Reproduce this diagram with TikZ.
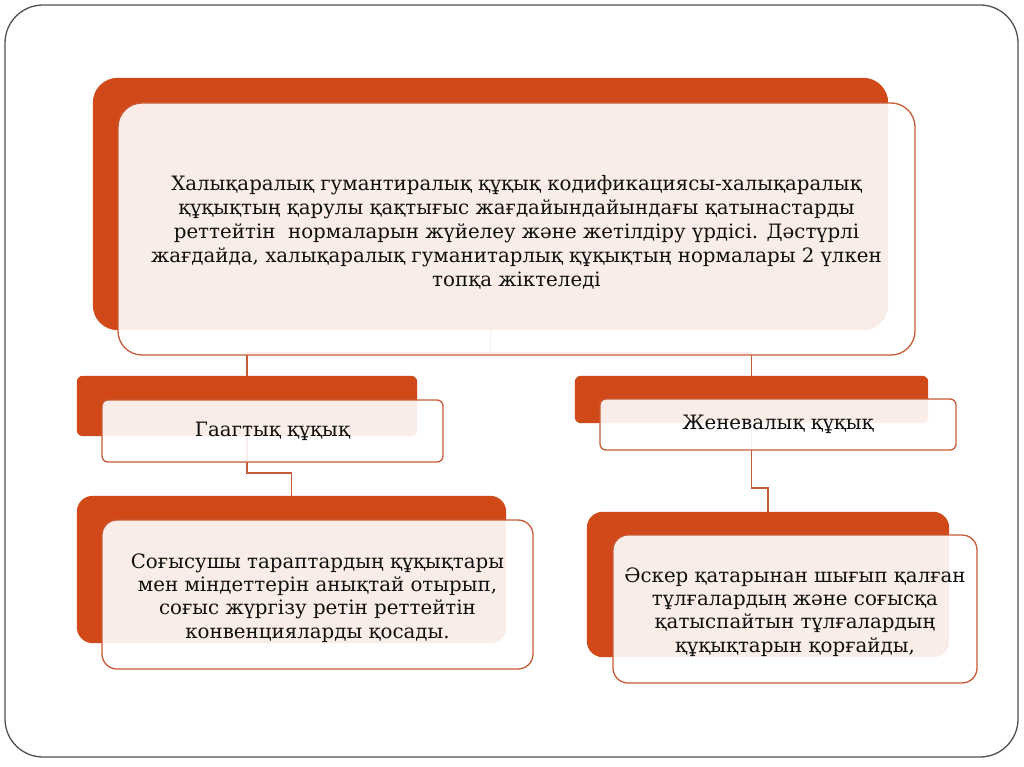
\documentclass[tikz,border=0pt]{standalone}
\usepackage{fontspec}
\setmainfont{DejaVu Serif}
\usetikzlibrary{calc}
\definecolor{orng}{RGB}{209,73,25}
\definecolor{edge}{RGB}{200,90,55}
\definecolor{frame}{RGB}{80,80,80}
\definecolor{txt}{RGB}{15,15,15}
\tikzset{
  backbox/.style={fill=orng, draw=none, inner sep=0pt},
  frontbox/.style={fill=white, fill opacity=0.9, text opacity=1, draw=edge, line width=1.3pt, inner sep=0pt, align=center, text=txt},
  conn/.style={draw=edge, line width=1.6pt},
  bigtext/.style={font=\fontsize{19.8}{24}\selectfont},
}
\begin{document}
\begin{tikzpicture}[x=1pt,y=-1pt]
\useasboundingbox (0,0) rectangle (1024,767);
\fill[white] (0,0) rectangle (1024,767);
\draw[frame, line width=1.3pt, rounded corners=38pt] (5,5) rectangle (1018,757);

% back boxes (positions only, filled after the connectors)
\path node[backbox, minimum width=795pt, minimum height=252pt, fill=none] (topback) at (490.5,204) {};
\path node[backbox, minimum width=340pt, minimum height=60pt, fill=none] (hagueback) at (247,406) {};
\path node[backbox, minimum width=353pt, minimum height=47pt, fill=none] (genevaback) at (751.5,399.5) {};
\path node[backbox, minimum width=429pt, minimum height=147pt, fill=none] (hdescback) at (291.5,569.5) {};
\path node[backbox, minimum width=362pt, minimum height=145pt, fill=none] (gdescback) at (768,584.5) {};

% connectors
\draw[conn] (topback.south) -- ++(0,23) -| (hagueback.north);
\draw[conn] (topback.south) -- ++(0,23) -| (genevaback.north);
\draw[conn] (hagueback.south) -- ++(0,37) -| (hdescback.north);
\draw[conn] (genevaback.south) -- ++(0,65) -| (gdescback.north);

% back boxes filled
\fill[orng, rounded corners=25pt] (topback.north west) rectangle (topback.south east);
\fill[orng, rounded corners=6pt] (hagueback.north west) rectangle (hagueback.south east);
\fill[orng, rounded corners=6pt] (genevaback.north west) rectangle (genevaback.south east);
\fill[orng, rounded corners=16pt] (hdescback.north west) rectangle (hdescback.south east);
\fill[orng, rounded corners=16pt] (gdescback.north west) rectangle (gdescback.south east);

% front boxes
\node[frontbox, bigtext, minimum width=797pt, minimum height=252pt, rounded corners=24pt] (topfront) at (516.5,229) {};
\node[text=txt, align=center, bigtext, inner sep=0pt] (toptext) at (516.5,232)
 {Халықаралық гумантиралық құқық кодификациясы-халықаралық\\
  құқықтың қарулы қақтығыс жағдайындайындағы қатынастарды\\
  реттейтін\ \ нормаларын жүйелеу және жетілдіру үрдісі. Дәстүрлі\\
  жағдайда, халықаралық гуманитарлық құқықтың нормалары 2 үлкен\\
  топқа жіктеледі};
\node[frontbox, bigtext, minimum width=341pt, minimum height=62pt, rounded corners=6pt] (haguefront) at (272.5,431) {Гаагтық құқық};
\node[frontbox, bigtext, minimum width=356pt, minimum height=51pt, rounded corners=6pt] (genevafront) at (778,424.5) {Женевалық құқық};
\node[frontbox, font=\fontsize{19.8}{23.3}\selectfont, minimum width=431pt, minimum height=149pt, rounded corners=15pt] (hdescfront) at (317.5,594.5) {};
\node[text=txt, align=center, font=\fontsize{19.8}{23.3}\selectfont, inner sep=0pt] (hdesctext) at (317.5,598)
 {Соғысушы тараптардың құқықтары\\
  мен міндеттерін анықтай отырып,\\
  соғыс жүргізу ретін реттейтін\\
  конвенцияларды қосады.};
\node[frontbox, minimum width=364pt, minimum height=148pt, rounded corners=15pt] (gdescfront) at (795,609) {};
\node[text=txt, align=center, font=\fontsize{19.8}{23.3}\selectfont, inner sep=0pt] (gdesctext) at (795,612)
 {Әскер қатарынан шығып қалған\\
  тұлғалардың және соғысқа\\
  қатыспайтын тұлғалардың\\
  құқықтарын қорғайды,};
\end{tikzpicture}
\end{document}
